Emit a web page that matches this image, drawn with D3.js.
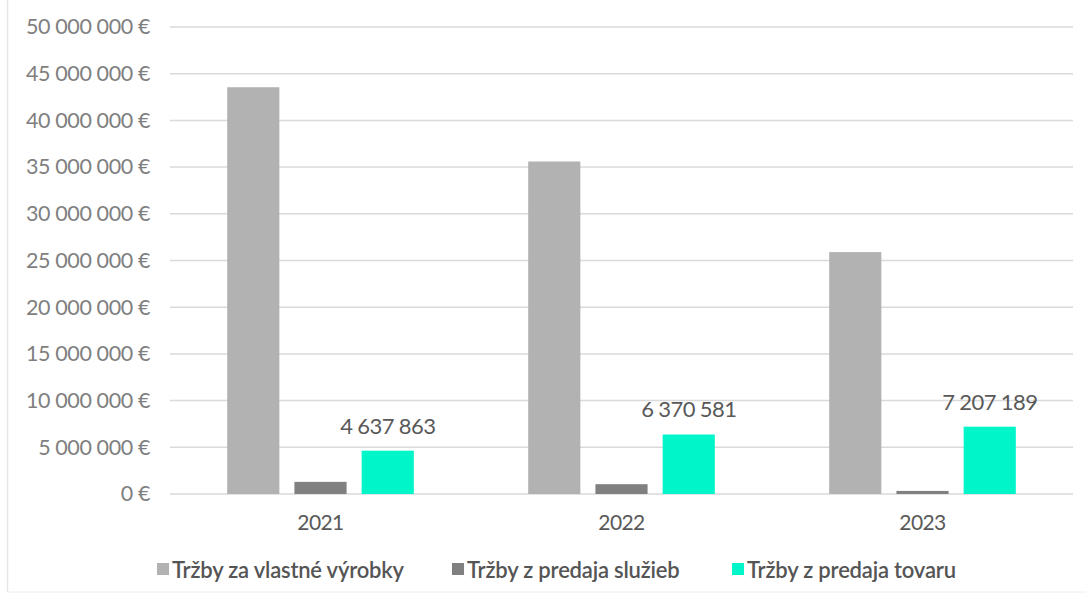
<!DOCTYPE html>
<html><head><meta charset="utf-8">
<script src="https://cdn.jsdelivr.net/npm/d3@7"></script>
<style>
html,body{margin:0;padding:0;background:#fff;}
svg{display:block;font-family:Lato,"Open Sans",sans-serif;}
</style></head>
<body><svg id="c" width="1086" height="603"></svg>
<script>
const years = ["2021","2022","2023"];
const seriesNames = ["Tržby za vlastné výrobky","Tržby z predaja služieb","Tržby z predaja tovaru"];
const vlastneVyrobky = [43550000, 35600000, 25900000];
const sluzby = [1300000, 1050000, 330000];
const tovar = [4637863, 6370581, 7207189];
const yTicks = [0,5000000,10000000,15000000,20000000,25000000,30000000,35000000,40000000,45000000,50000000];
const colors = ["#b2b2b2","#808080","#00f5c9"];

const seriesValues = [vlastneVyrobky, sluzby, tovar];
const svg = d3.select("#c");

// frame
svg.append("line").attr("x1",7.5).attr("x2",7.5).attr("y1",0).attr("y2",592).attr("stroke","#e6e6e6").attr("stroke-width",1.5);
svg.append("line").attr("x1",7.5).attr("x2",1086).attr("y1",592).attr("y2",592).attr("stroke","#eeeeee").attr("stroke-width",1);

const x0 = d3.scaleBand().domain(years).range([170,1073]).padding(0);
const x1 = d3.scaleBand().domain(d3.range(3)).range([x0.bandwidth()*0.19, x0.bandwidth()*0.81]).paddingInner(0.224).paddingOuter(0);
const y = d3.scaleLinear().domain([0,50000000]).range([494,27]);

const loc = d3.formatLocale({decimal:",", thousands:" ", grouping:[3], currency:["",""]});
const fmt = loc.format(",d");

// y axis labels
const yAxis = d3.axisLeft(y).tickValues(yTicks).tickSize(0).tickPadding(20).tickFormat(d => fmt(d) + " €");
const ga = svg.append("g").attr("transform","translate(170,0)").call(yAxis);
ga.select(".domain").remove();
ga.selectAll("text").attr("font-size",21.5).attr("fill","#7f7f7f").attr("letter-spacing","-0.4px").attr("font-family","Lato,sans-serif");
// gridlines
svg.append("g").selectAll("line").data(yTicks).join("line")
  .attr("x1",170).attr("x2",1073).attr("y1",d=>y(d)).attr("y2",d=>y(d))
  .attr("stroke","#dadada").attr("stroke-width",1.5);

// bars
const groups = svg.append("g").selectAll("g").data(years).join("g")
  .attr("transform", d => `translate(${x0(d)},0)`);
groups.selectAll("rect").data((d,i) => seriesValues.map((s,k)=>({k, v:s[i]}))).join("rect")
  .attr("x", d => x1(d.k)).attr("width", x1.bandwidth())
  .attr("y", d => y(d.v)).attr("height", d => y(0) - y(d.v))
  .attr("fill", d => colors[d.k]);

// data labels on tovar
groups.append("text")
  .attr("x", x1(2) + x1.bandwidth()/2)
  .attr("y", (d,i) => y(tovar[i]) - 17)
  .attr("text-anchor","middle").attr("font-size",22).attr("fill","#595959").attr("letter-spacing","-0.6px")
  .text((d,i) => fmt(tovar[i]));

// x axis labels
const xAxis = d3.axisBottom(x0).tickSize(0).tickPadding(21);
const gx = svg.append("g").attr("transform","translate(0,494)").call(xAxis);
gx.select(".domain").remove();
gx.selectAll("text").attr("font-size",21).attr("fill","#595959").attr("font-family","Lato,sans-serif").attr("letter-spacing","-0.6px");

// legend
const legendX = [157, 452, 732];
const lg = svg.append("g").selectAll("g").data(seriesNames).join("g")
  .attr("transform",(d,i)=>`translate(${legendX[i]},571)`);
lg.append("rect").attr("x",0).attr("y",-8).attr("width",12).attr("height",12).attr("fill",(d,i)=>colors[i]);
lg.append("text").attr("x",15).attr("y",0).attr("dy","0.33em").attr("font-size",22).attr("font-weight",600)
  .attr("fill","#555").attr("letter-spacing","-0.2px").text(d=>d);
</script></body></html>
